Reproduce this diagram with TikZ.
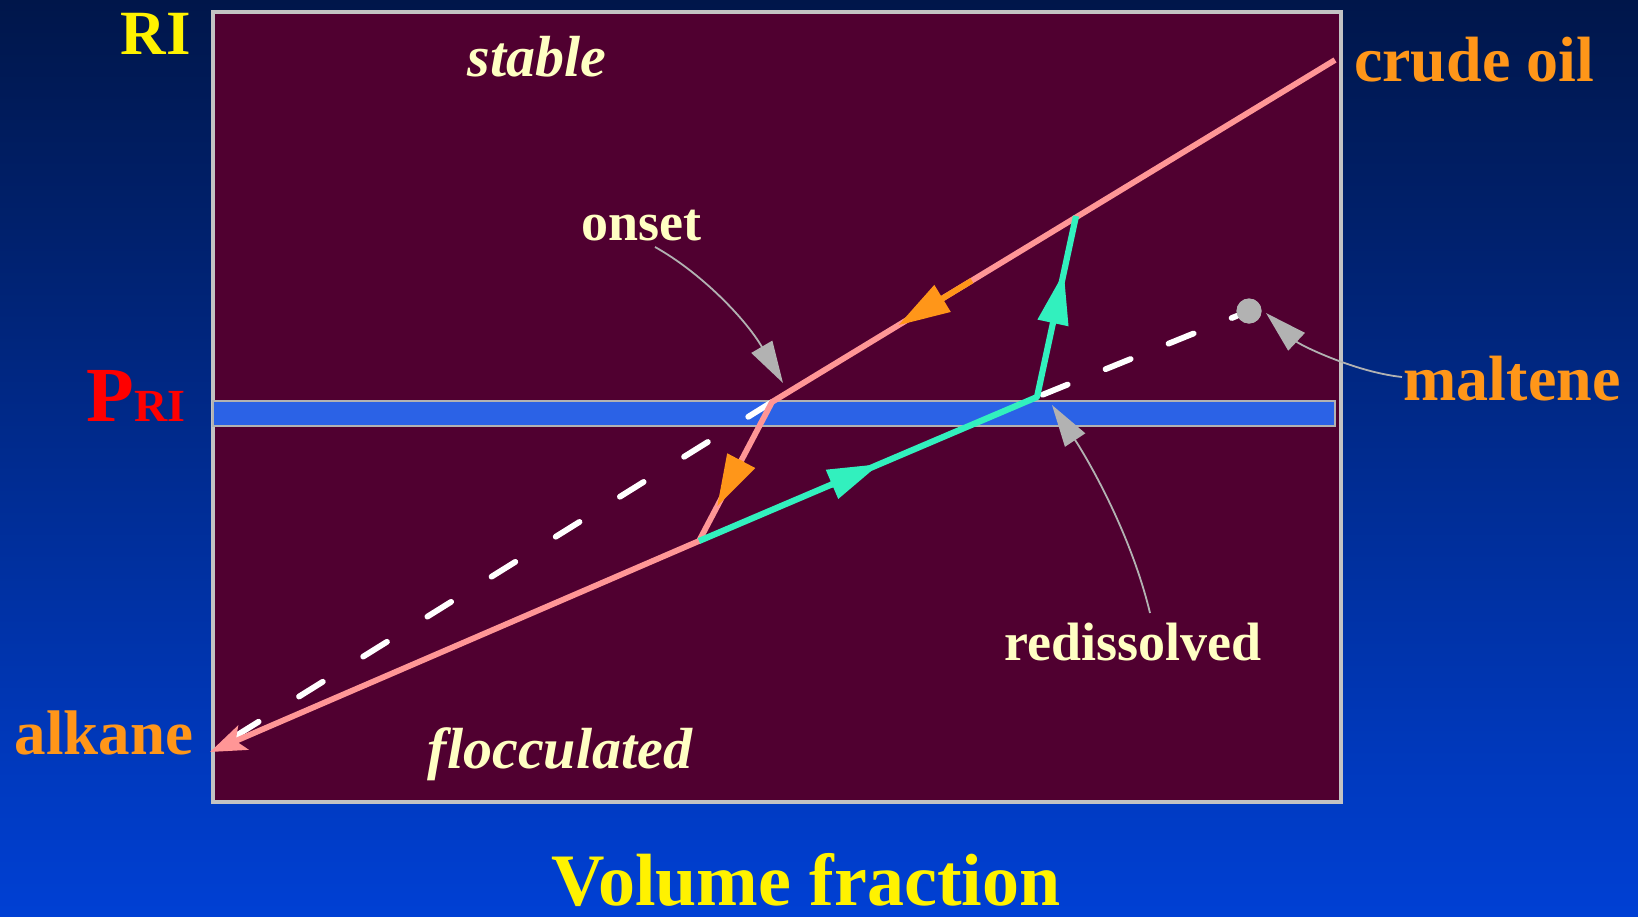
\documentclass[tikz,border=0pt]{standalone}
\usepackage{fontspec}
\setmainfont{Liberation Serif}
\usetikzlibrary{calc,arrows.meta}
\definecolor{bgtop}{RGB}{0,22,74}
\definecolor{bgbot}{RGB}{0,64,212}
\definecolor{plum}{RGB}{80,0,48}
\definecolor{bandblue}{RGB}{43,98,230}
\definecolor{frame}{RGB}{195,195,195}
\definecolor{pinkline}{RGB}{255,150,150}
\definecolor{amber}{RGB}{255,150,25}
\definecolor{aqua}{RGB}{50,240,190}
\definecolor{cream}{RGB}{255,255,195}
\definecolor{ltgray}{RGB}{178,178,178}

\begin{document}
\begin{tikzpicture}[x=0.5pt,y=-0.5pt,
  lbl/.style={anchor=base,inner sep=0pt,font=\bfseries\fontsize{#1}{#1}\selectfont},
  region/.style={anchor=base,inner sep=0pt,text=cream,font=\bfseries\itshape\fontsize{29}{29}\selectfont},
  oilline/.style={pinkline,line width=2.9pt,line join=round},
  redisline/.style={aqua,line width=3.1pt,line join=round},
  maltline/.style={white,line width=2.9pt,line cap=round},
  midhead/.style={-{Triangle[length=26pt,width=15pt]}},
  leader/.style={ltgray,line width=0.9pt,-{Triangle[length=21pt,width=12pt]}}]
\shade[top color=bgtop,bottom color=bgbot] (0,0) rectangle (1638,916);
\useasboundingbox (0,0) rectangle (1638,916);
\draw[frame,fill=plum,line width=1.6pt] (213,12) rectangle (1341,802);
\draw[ltgray,fill=bandblue,line width=1pt] (213,401) rectangle (1335,426);

\coordinate (crude) at (1335,60);
\coordinate (onset) at (772,402);
\coordinate (drop) at (699,541);
\coordinate (redis) at (1037,397);
\coordinate (rise) at (1076,216);
\coordinate (alk) at (210,752);
\node[circle,fill=ltgray,inner sep=0pt,minimum size=12.5pt] (mpt) at (1249,311) {};

\draw[maltline,dash pattern=on 14pt off 23.8pt] (onset) -- (alk);
\draw[maltline,dash pattern=on 13.5pt off 20.5pt,dash phase=-3pt] (redis) -- (mpt);
\node[circle,fill=ltgray,inner sep=0pt,minimum size=12.5pt] at (mpt) {};
\draw[oilline,-{Stealth[length=18pt,width=13pt,inset=4pt]}] (crude) -- (onset) -- (drop) -- (alk);
\draw[redisline] (drop) -- (redis) -- (rise);
\draw[amber,line width=2.9pt,midhead] ($(crude)!0.645!(onset)$) -- ($(crude)!0.776!(onset)$);
\draw[amber,line width=2.9pt,midhead] ($(onset)!0.42!(drop)$) -- ($(onset)!0.753!(drop)$);
\draw[aqua,line width=3.1pt,midhead] ($(drop)!0.39!(redis)$) -- ($(drop)!0.535!(redis)$);
\draw[aqua,line width=3.1pt,midhead] ($(redis)!0.41!(rise)$) -- ($(redis)!0.69!(rise)$);

\node[lbl=31.5,text=yellow] (rilbl) at (156,54) {RI};
\node[lbl=39,text=red,anchor=base west] (prilbl) at (86,421) {P\fontsize{23}{23}\selectfont RI};
\node[region] (stablelbl) at (537,76) {stable};
\node[region] (flocclbl) at (560,768) {flocculated};
\node[lbl=32,text=amber] (crudelbl) at (1474,81) {crude oil};
\node[lbl=32,text=amber] (maltlbl) at (1512,400) {maltene};
\node[lbl=31.5,text=amber] (alklbl) at (104,754) {alkane};
\node[lbl=27,text=cream] (onsetlbl) at (641,240) {onset};
\node[lbl=27,text=cream] (redislbl) at (1133,660) {redissolved};
\node[lbl=37,text=yellow] (xlbl) at (806,905) {Volume fraction};

\coordinate (onsettip) at (783,383);
\coordinate (redistip) at (1052,405);
\coordinate (malttip) at (1266,313);
\draw[leader] ($(onsetlbl.base)+(14,7)$) .. controls (700,272) and (745,318) .. (onsettip);
\draw[leader] ($(redislbl.base)+(17,-47)$) .. controls (1130,530) and (1085,455) .. (redistip);
\draw[leader] ($(maltlbl.base)+(-110,-23)$) .. controls (1355,372) and (1300,345) .. (malttip);
\end{tikzpicture}
\end{document}
